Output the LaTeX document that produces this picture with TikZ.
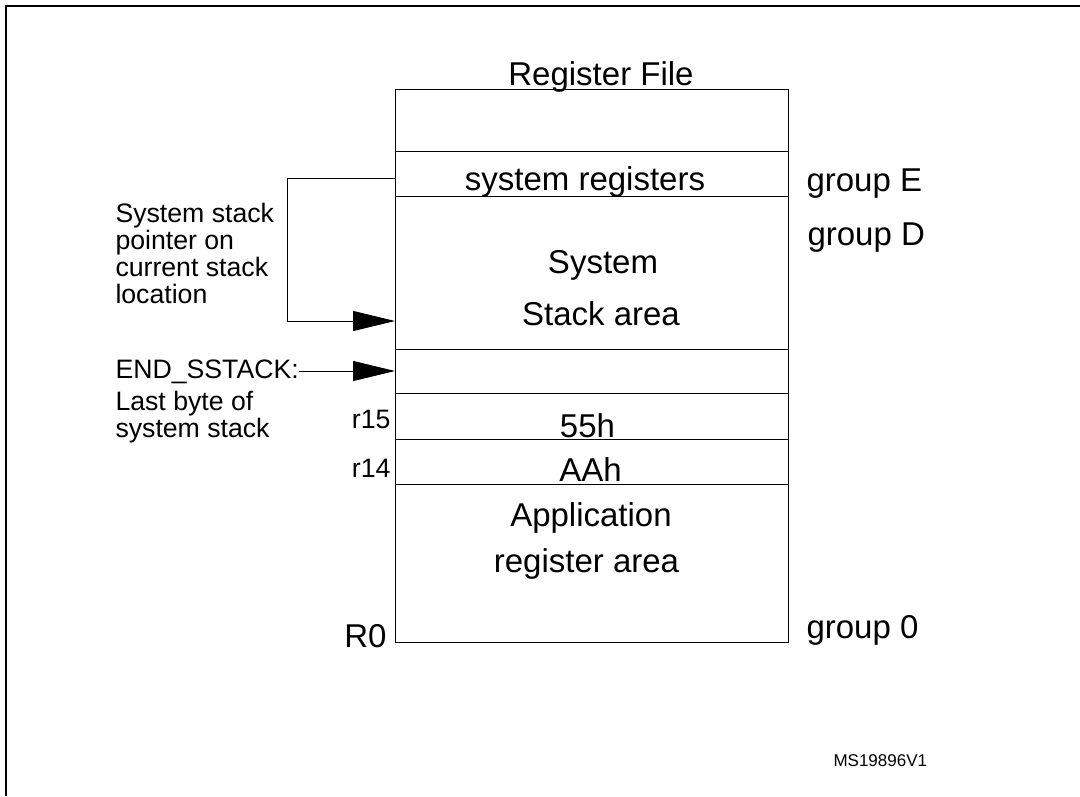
\documentclass[tikz,border=0pt]{standalone}
\usepackage{fontspec}
\setmainfont{Liberation Sans}
\usetikzlibrary{arrows.meta}

\tikzset{every picture/.style={line width=0.75pt}}
\tikzset{
  regbox/.style={draw, rectangle, inner sep=0pt, outer sep=0pt, minimum width=294.75pt},
  ptr/.style={-{Triangle[length=31.5pt,width=15pt]}},
  bigtxt/.style={font=\fontsize{24.75}{29}\selectfont, inner sep=0pt},
  sidetxt/.style={font=\fontsize{20}{20.25}\selectfont, inner sep=0pt, align=left},
}

\begin{document}
\begin{tikzpicture}[x=0.75pt,y=0.75pt,yscale=-1,xscale=1]
\useasboundingbox (0,0) rectangle (1080,796);

%Straight Lines: frame
\draw [line width=1.5pt]  (6,796) -- (6,6) -- (1080,6) ;

%Shape: Rectangle (register file)
\node [regbox, minimum height=46.5pt]   (topbox) at (591.5,120) {};
\node [regbox, minimum height=33.75pt]  (sysreg) at (591.5,173.5) {};
\node [regbox, minimum height=114.75pt] (stack)  at (591.5,272.5) {};
\node [regbox, minimum height=33pt]     (endbox) at (591.5,371) {};
\node [regbox, minimum height=34.5pt]   (rfift)  at (591.5,416) {};
\node [regbox, minimum height=33.75pt]  (rfour)  at (591.5,461.5) {};
\node [regbox, minimum height=118.5pt]  (appbox) at (591.5,563) {};

% Text Node
\node [bigtxt, anchor=base] (title)   at (601,85)    {Register File};
\node [bigtxt, anchor=base] (sregtxt) at (585,190)   {system registers};
\node [bigtxt, anchor=base] (systxt)  at (603,273)   {System};
\node [bigtxt, anchor=base] (stktxt)  at (601,325)   {Stack area};
\node [bigtxt, anchor=base] (vfift)   at (587.5,437) {55h};
\node [bigtxt, anchor=base] (vfour)   at (590.5,481) {AAh};
\node [bigtxt, anchor=base] (apptxt)  at (591,526)   {Application};
\node [bigtxt, anchor=base] (regtxt)  at (586.5,572) {register area};
% Text Node
\node [bigtxt, anchor=base west] (grpE) at (806,191) {group E};
\node [bigtxt, anchor=base west] (grpD) at (807,245) {group D};
\node [bigtxt, anchor=base west] (grpZ) at (806,638) {group 0};
\node [bigtxt, anchor=base east] (rzero) at (387,647) {R0};
% Text Node
\node [sidetxt, anchor=base east] (lfift) at (391,428) {r15};
\node [sidetxt, anchor=base east] (lfour) at (391,477) {r14};
% Text Node
\node [sidetxt, anchor=base west] (sptxt)  at (115,303) {System stack\\pointer on\\current stack\\location};
\node [sidetxt, anchor=base west] (endlbl) at (115,378) {END\_SSTACK:};
\node [sidetxt, anchor=base west] (lasttxt) at (115,437) {Last byte of\\system stack};
% Text Node
\node [inner sep=0pt, anchor=base west, font=\fontsize{12.75}{15}\selectfont] (ref) at (833,766) {MS19896V1};

%Straight Lines: pointers
\draw [ptr]  (sysreg.west |- 0,178) -- (287,178) |- (stack.west |- 0,321) ;
\draw [ptr]  (endlbl.east |- endbox.west) -- (endbox.west) ;

\end{tikzpicture}
\end{document}
